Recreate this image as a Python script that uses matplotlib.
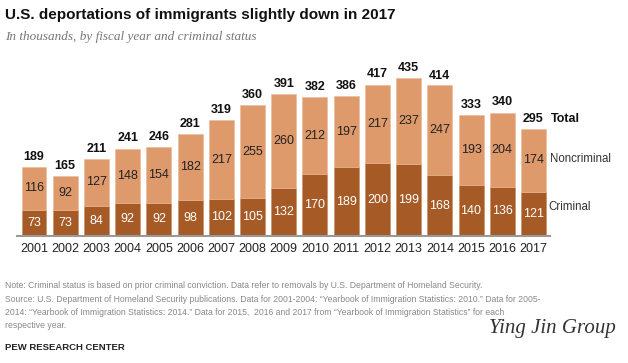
import matplotlib
matplotlib.use("Agg")
import matplotlib.pyplot as plt
import numpy as np

years = ["2001", "2002", "2003", "2004", "2005", "2006", "2007", "2008", "2009",
         "2010", "2011", "2012", "2013", "2014", "2015", "2016", "2017"]
criminal = [73, 73, 84, 92, 92, 98, 102, 105, 132, 170, 189, 200, 199, 168, 140, 136, 121]
noncriminal = [116, 92, 127, 148, 154, 182, 217, 255, 260, 212, 197, 217, 237, 247, 193, 204, 174]
totals = [189, 165, 211, 241, 246, 281, 319, 360, 391, 382, 386, 417, 435, 414, 333, 340, 295]

C_CRIM = "#A65B27"
C_NON = "#DE9A6B"

W, H = 628, 363
fig = plt.figure(figsize=(W / 100, H / 100), dpi=100)
fig.patch.set_facecolor("white")

ax_l, ax_r, ax_top, ax_base = 17, 550, 60, 236
ax = fig.add_axes([ax_l / W, 1 - ax_base / H, (ax_r - ax_l) / W, (ax_base - ax_top) / H])
x = np.arange(len(years))
sp = 31.2
ax.set_xlim(-(34 - ax_l) / sp, len(years) - 1 + (ax_r - 533.5) / sp)
ax.set_ylim(0, (ax_base - ax_top) / 0.363)

ax.bar(x, criminal, width=0.8, color=C_CRIM, edgecolor="#C98A5E", linewidth=0.4)
ax.bar(x, noncriminal, width=0.8, bottom=criminal, color=C_NON, edgecolor="#EBB895", linewidth=0.4)

for i in range(len(years)):
    ax.text(x[i], criminal[i] / 2, str(criminal[i]), ha="center", va="center",
            fontsize=9, color="white", family="Liberation Sans")
    ax.text(x[i], criminal[i] + noncriminal[i] / 2, str(noncriminal[i]), ha="center", va="center",
            fontsize=9, color="#222222", family="Liberation Sans")
    ax.annotate(str(totals[i]), (x[i], totals[i]), xytext=(0, 3), textcoords="offset points",
                ha="center", va="bottom", fontsize=9, fontweight="bold", color="#111111",
                family="Liberation Sans")

last = len(years) - 1
ax.annotate("Total", (x[last], totals[last]), xytext=(12.5, 3), textcoords="offset points",
            ha="left", va="bottom", fontsize=9, fontweight="bold", color="#111111",
            family="Liberation Sans")
ax.annotate("Noncriminal", (x[last], criminal[last] + noncriminal[last] / 2), xytext=(12, 1),
            textcoords="offset points", ha="left", va="center", fontsize=8.3, color="#333333",
            family="Liberation Sans")
ax.annotate("Criminal", (x[last], criminal[last] / 2), xytext=(11, 5),
            textcoords="offset points", ha="left", va="center", fontsize=8.3, color="#333333",
            family="Liberation Sans")

for s in ["top", "right", "left"]:
    ax.spines[s].set_visible(False)
ax.spines["bottom"].set_color("#999999")
ax.spines["bottom"].set_linewidth(1.5)
ax.set_yticks([])
ax.set_xticks(x)
ax.set_xticklabels(years, fontsize=9, color="#222222", family="Liberation Sans")
ax.tick_params(axis="x", length=0, pad=5)

fig.text(5 / W, 1 - 15.5 / H, "U.S. deportations of immigrants slightly down in 2017",
         fontsize=11, fontweight="bold", color="#111111", va="center", ha="left",
         family="Liberation Sans")
fig.text(5 / W, 1 - 37 / H, "In thousands, by fiscal year and criminal status",
         fontsize=9.5, style="italic", color="#777777", va="center", ha="left",
         family="Liberation Serif")

notes = [
    "Note: Criminal status is based on prior criminal conviction. Data refer to removals by U.S. Department of Homeland Security.",
    "Source: U.S. Department of Homeland Security publications. Data for 2001-2004: \u201cYearbook of Immigration Statistics: 2010.\u201d Data for 2005-",
    "2014: \u201cYearbook of Immigration Statistics: 2014.\u201d Data for 2015,  2016 and 2017 from \u201cYearbook of Immigration Statistics\u201d for each",
    "respective year.",
]
ys = [285, 299, 312.5, 326]
for t, yy in zip(notes, ys):
    fig.text(5 / W, 1 - yy / H, t, fontsize=6.2, color="#888888", va="center", ha="left",
             family="Liberation Sans")
fig.text(5 / W, 1 - 347 / H, "PEW RESEARCH CENTER", fontsize=6.8, fontweight="bold",
         color="#222222", va="center", ha="left", family="Liberation Sans")
fig.text(552 / W, 1 - 329 / H, "Ying Jin Group", fontsize=15, style="italic",
         color="#333333", va="center", ha="center", family="Liberation Serif")

fig.savefig("out.png", dpi=100)
